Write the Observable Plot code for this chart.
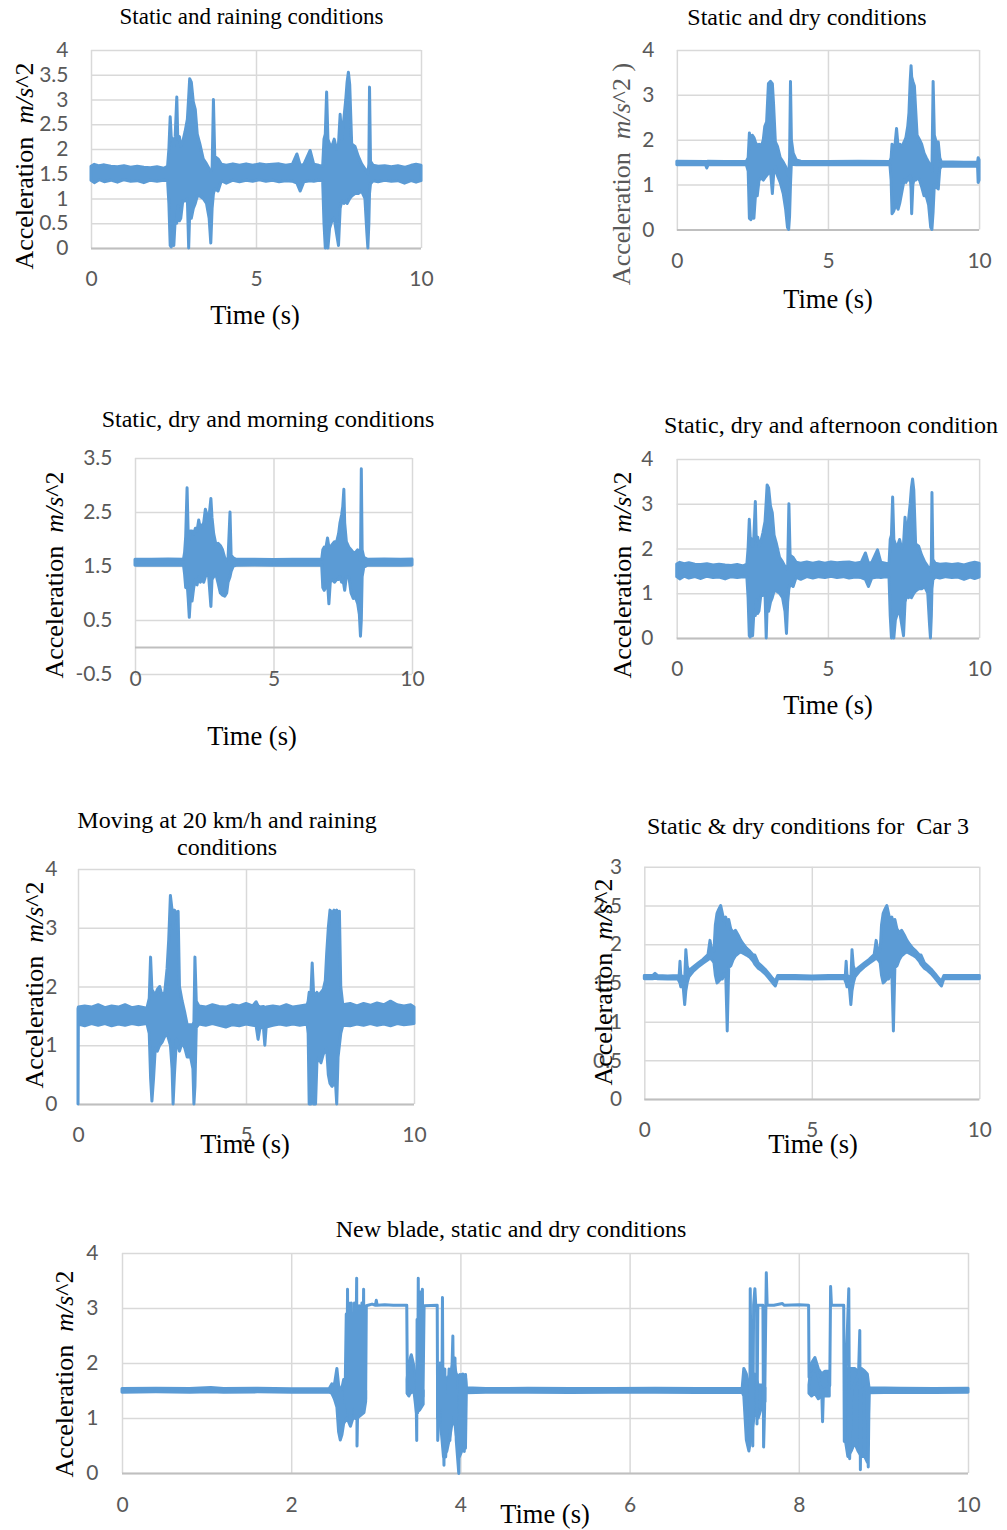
<!DOCTYPE html>
<html><head><meta charset="utf-8">
<script src="https://cdn.jsdelivr.net/npm/d3@7"></script>
<script src="https://cdn.jsdelivr.net/npm/@observablehq/plot@0.6"></script>
<style>
body{margin:0;background:#fff;width:1007px;height:1530px;position:relative;overflow:hidden}
.panel{position:absolute}
#overlay{position:absolute;left:0;top:0;pointer-events:none}
</style></head><body>
<script>
// ---------- data: [time s, low envelope, high envelope] (m/s^2) ----------
const rainBand = [
[0.00,1.37,1.65],[0.10,1.32,1.69],[0.25,1.38,1.66],[0.40,1.34,1.68],[0.60,1.37,1.65],[0.80,1.33,1.64],
[1.00,1.38,1.66],[1.20,1.35,1.63],[1.40,1.36,1.65],[1.60,1.32,1.63],[1.80,1.37,1.62],[2.00,1.35,1.64],
[2.20,1.37,1.61],[2.32,1.36,1.65],[2.36,0.90,2.00],[2.40,0.05,2.65],[2.43,0.02,2.25],[2.47,0.30,2.20],
[2.51,0.05,2.05],[2.55,0.55,2.25],[2.60,0.50,3.05],[2.63,0.85,2.20],[2.68,0.55,2.25],[2.72,0.60,2.05],
[2.78,0.95,2.15],[2.85,0.95,2.35],[2.92,1.00,2.60],[2.96,0.00,3.05],[2.99,0.70,3.42],[3.04,0.60,3.35],
[3.10,0.80,2.95],[3.16,0.90,2.80],[3.22,1.05,2.30],[3.30,1.05,2.10],[3.40,1.00,1.80],[3.50,0.90,1.70],
[3.58,0.60,1.60],[3.63,0.10,1.55],[3.67,0.80,1.60],[3.71,1.10,3.00],[3.75,1.20,1.85],[3.85,1.15,1.80],
[3.95,1.36,1.69],[4.10,1.31,1.67],[4.30,1.37,1.70],[4.50,1.34,1.67],[4.70,1.37,1.70],[4.90,1.35,1.67],
[5.10,1.38,1.70],[5.30,1.35,1.68],[5.50,1.37,1.69],[5.70,1.34,1.70],[5.90,1.36,1.67],[6.10,1.35,1.69],
[6.24,1.31,1.90],[6.34,1.15,1.67],[6.45,1.34,1.69],[6.64,1.36,1.97],[6.75,1.35,1.69],[6.90,1.37,1.67],
[7.02,1.36,1.65],[7.06,0.50,2.20],[7.10,0.00,2.30],[7.14,0.30,3.15],[7.18,0.00,2.20],[7.23,0.40,2.10],
[7.30,0.55,2.05],[7.37,0.60,2.20],[7.44,0.30,2.00],[7.50,0.05,2.10],[7.55,0.80,2.70],[7.60,0.95,2.20],
[7.66,0.90,2.60],[7.72,0.95,3.00],[7.76,0.90,3.35],[7.80,0.95,3.55],[7.84,1.00,3.30],[7.90,1.05,2.10],
[8.00,1.10,2.05],[8.10,1.10,1.85],[8.20,1.15,1.70],[8.30,1.00,1.60],[8.36,0.30,1.55],[8.39,0.00,1.50],
[8.42,0.50,1.70],[8.44,1.10,3.25],[8.47,1.30,1.75],[8.55,1.36,1.67],[8.70,1.34,1.65],[8.90,1.37,1.66],
[9.10,1.35,1.64],[9.30,1.36,1.66],[9.50,1.31,1.63],[9.70,1.36,1.67],[9.85,1.33,1.69],[10.0,1.36,1.67]
];
const dryBand = [
[0.00,1.44,1.52],[0.95,1.44,1.515],[0.99,1.37,1.515],[1.03,1.44,1.52],[1.60,1.445,1.515],[2.30,1.44,1.52],
[2.36,1.30,1.60],[2.40,0.25,2.15],[2.45,0.22,1.90],[2.50,0.28,2.10],[2.55,0.25,2.05],[2.60,0.75,1.95],
[2.66,0.75,1.85],[2.72,1.10,1.90],[2.80,1.15,1.85],[2.86,1.10,2.00],[2.91,1.15,2.30],[2.97,1.20,2.40],
[3.03,1.25,3.25],[3.10,1.30,3.30],[3.16,0.80,3.25],[3.20,1.20,2.80],[3.26,1.40,1.95],[3.33,1.20,1.85],
[3.42,1.05,1.60],[3.52,0.80,1.50],[3.60,0.45,1.40],[3.66,0.05,1.25],[3.70,0.00,1.20],[3.73,0.30,1.60],
[3.76,1.00,3.30],[3.79,1.50,2.00],[3.85,1.45,1.70],[3.95,1.44,1.55],[4.10,1.44,1.52],[5.00,1.445,1.515],
[6.00,1.44,1.52],[7.05,1.44,1.515],[7.09,1.10,1.60],[7.12,0.35,1.90],[7.17,0.40,1.85],[7.22,0.50,1.90],
[7.27,0.55,2.25],[7.32,0.45,1.85],[7.38,0.60,1.90],[7.45,0.85,1.85],[7.52,1.10,1.95],[7.58,1.05,2.05],
[7.64,1.15,2.30],[7.68,1.10,2.60],[7.72,1.20,3.30],[7.75,0.90,3.65],[7.77,0.35,3.40],[7.81,1.00,3.30],
[7.86,1.15,3.20],[7.90,1.10,2.70],[7.95,1.15,2.10],[8.03,1.10,2.00],[8.10,0.95,1.90],[8.18,0.75,1.70],
[8.25,0.75,1.60],[8.33,0.55,1.50],[8.40,0.05,1.40],[8.44,0.00,1.30],[8.48,0.40,3.30],[8.52,1.00,2.10],
[8.58,0.95,1.95],[8.65,0.90,1.95],[8.70,1.35,1.60],[8.75,1.41,1.51],[9.50,1.41,1.50],[9.95,1.41,1.50],
[9.97,1.05,1.60],[10.0,1.10,1.55]
];
const morningBand = [
[0.00,1.515,1.625],[0.60,1.52,1.625],[1.20,1.515,1.63],[1.75,1.52,1.625],[1.79,1.35,1.75],[1.83,1.10,2.05],
[1.88,1.20,2.95],[1.92,0.90,2.10],[1.96,0.55,2.00],[2.00,0.90,2.15],[2.06,0.85,2.15],[2.12,1.10,2.10],
[2.18,1.25,2.20],[2.24,1.15,2.15],[2.30,1.30,2.35],[2.36,1.20,2.20],[2.42,1.25,2.25],[2.48,1.20,2.30],
[2.54,1.30,2.55],[2.60,1.35,2.45],[2.66,1.30,2.35],[2.74,0.75,2.75],[2.78,1.25,2.40],[2.84,1.30,2.10],
[2.92,1.35,1.90],[3.00,1.18,1.92],[3.08,1.00,1.88],[3.16,0.96,1.80],[3.24,0.94,1.65],[3.31,1.00,1.60],
[3.36,1.20,1.65],[3.43,1.30,2.50],[3.47,1.40,1.70],[3.55,1.50,1.65],[3.65,1.515,1.625],[4.30,1.52,1.625],
[5.00,1.515,1.62],[5.70,1.52,1.625],[6.30,1.515,1.625],[6.74,1.515,1.625],[6.78,1.10,1.80],[6.83,1.05,1.85],
[6.88,1.10,1.80],[6.95,1.20,2.02],[7.00,0.80,1.85],[7.05,1.20,1.85],[7.12,1.25,1.90],[7.20,1.20,1.95],
[7.28,1.25,1.95],[7.35,1.25,2.10],[7.40,1.30,2.30],[7.46,1.20,2.45],[7.50,1.25,2.60],[7.54,1.15,2.92],
[7.57,1.05,2.30],[7.63,1.30,1.95],[7.72,1.30,1.85],[7.80,1.00,1.80],[7.88,0.90,1.75],[7.96,0.92,1.75],
[8.04,0.80,1.80],[8.10,0.60,1.70],[8.14,0.20,1.60],[8.17,0.50,3.30],[8.20,1.30,1.80],[8.26,1.48,1.66],
[8.40,1.515,1.625],[9.00,1.52,1.63],[9.60,1.515,1.625],[10.0,1.52,1.63]
];
const afternoonBand = rainBand; // same recorded trace as the raining plot
const movingBand = [
[0.00,0.00,1.62],[0.01,1.36,1.65],[0.20,1.33,1.67],[0.40,1.37,1.65],[0.60,1.34,1.69],[0.80,1.37,1.64],
[1.00,1.33,1.67],[1.20,1.36,1.65],[1.40,1.34,1.69],[1.60,1.37,1.64],[1.80,1.35,1.66],[2.05,1.37,1.63],
[2.12,1.20,1.80],[2.16,0.45,2.50],[2.20,0.05,1.95],[2.25,0.45,1.90],[2.30,0.95,1.85],[2.36,0.90,1.95],
[2.43,1.00,2.00],[2.50,1.05,1.85],[2.58,1.15,1.90],[2.65,1.20,2.30],[2.70,1.10,2.80],[2.75,1.00,3.55],
[2.80,0.60,3.30],[2.83,0.00,3.00],[2.87,0.50,3.30],[2.93,1.10,3.25],[2.98,1.00,3.28],[3.02,0.90,2.00],
[3.10,1.05,1.75],[3.18,0.95,1.55],[3.25,0.80,1.35],[3.35,0.80,1.35],[3.42,0.60,1.35],[3.45,0.00,1.40],
[3.48,0.30,2.50],[3.52,1.30,1.75],[3.60,1.36,1.67],[3.80,1.34,1.65],[4.00,1.37,1.69],[4.20,1.34,1.66],
[4.40,1.31,1.65],[4.60,1.35,1.69],[4.80,1.33,1.67],[5.00,1.36,1.71],[5.20,1.34,1.67],[5.30,1.33,1.74],
[5.36,1.10,1.67],[5.42,1.31,1.65],[5.52,1.29,1.66],[5.56,1.00,1.64],[5.60,1.31,1.65],[5.80,1.34,1.67],
[6.00,1.36,1.65],[6.20,1.34,1.69],[6.40,1.36,1.65],[6.60,1.34,1.67],[6.82,1.36,1.69],[6.85,1.20,1.75],
[6.88,0.00,1.90],[6.93,0.00,1.85],[6.97,0.10,2.40],[7.01,0.00,1.90],[7.07,0.00,1.85],[7.11,0.70,1.90],
[7.17,0.80,1.85],[7.23,0.70,1.90],[7.30,0.85,1.95],[7.36,0.90,2.10],[7.40,0.95,2.55],[7.45,0.50,3.00],
[7.50,0.35,3.30],[7.56,0.30,3.25],[7.62,0.35,3.30],[7.67,0.30,3.28],[7.70,0.00,3.30],[7.74,0.80,3.25],
[7.78,1.00,3.28],[7.82,1.20,2.00],[7.88,1.34,1.69],[8.10,1.33,1.71],[8.30,1.36,1.67],[8.50,1.34,1.71],
[8.70,1.37,1.68],[8.90,1.34,1.72],[9.10,1.36,1.69],[9.30,1.33,1.75],[9.50,1.37,1.69],[9.70,1.35,1.67],
[9.90,1.36,1.69],[10.0,1.37,1.65]
];
const car3Band = [
[0.00,1.555,1.595],[0.25,1.555,1.595],[0.32,1.56,1.625],[0.40,1.555,1.595],[0.70,1.55,1.59],[1.00,1.555,1.595],
[1.04,1.52,1.60],[1.065,1.50,1.78],[1.09,1.45,1.60],[1.15,1.50,1.58],[1.205,1.22,1.55],[1.24,1.40,1.93],
[1.28,1.50,1.72],[1.33,1.58,1.66],[1.45,1.645,1.705],[1.60,1.705,1.755],[1.75,1.755,1.805],[1.90,1.80,1.865],
[1.96,1.82,2.05],[2.02,1.80,1.90],[2.08,1.76,1.92],[2.12,1.60,2.25],[2.17,1.50,2.40],[2.22,1.52,2.45],
[2.28,1.55,2.50],[2.33,1.55,2.40],[2.38,1.62,2.30],[2.43,1.60,2.35],[2.475,0.88,2.25],[2.52,1.70,2.32],
[2.58,1.72,2.20],[2.65,1.80,2.15],[2.72,1.85,2.18],[2.80,1.88,2.12],[2.88,1.90,2.05],[2.96,1.88,2.00],
[3.05,1.86,1.95],[3.15,1.83,1.91],[3.25,1.78,1.86],[3.30,1.74,1.86],[3.40,1.69,1.76],[3.50,1.66,1.72],
[3.60,1.62,1.68],[3.72,1.56,1.62],[3.83,1.50,1.56],[3.91,1.46,1.52],[3.98,1.555,1.595],[4.50,1.555,1.595],
[5.00,1.55,1.59],[5.50,1.555,1.595],[5.98,1.555,1.595],
[6.00,1.52,1.60],[6.025,1.50,1.78],[6.05,1.45,1.60],[6.11,1.50,1.58],[6.165,1.22,1.55],[6.20,1.40,1.93],
[6.24,1.50,1.72],[6.29,1.58,1.66],[6.41,1.645,1.705],[6.56,1.705,1.755],[6.71,1.755,1.805],[6.86,1.80,1.865],
[6.92,1.82,2.05],[6.98,1.80,1.90],[7.04,1.76,1.92],[7.08,1.60,2.25],[7.13,1.50,2.40],[7.18,1.52,2.45],
[7.24,1.55,2.50],[7.29,1.55,2.40],[7.34,1.62,2.30],[7.39,1.60,2.35],[7.435,0.88,2.25],[7.48,1.70,2.32],
[7.54,1.72,2.20],[7.61,1.80,2.15],[7.68,1.85,2.18],[7.76,1.88,2.12],[7.84,1.90,2.05],[7.92,1.88,2.00],
[8.01,1.86,1.95],[8.11,1.83,1.91],[8.21,1.78,1.86],[8.26,1.74,1.86],[8.36,1.69,1.76],[8.46,1.66,1.72],
[8.56,1.62,1.68],[8.68,1.56,1.62],[8.79,1.50,1.56],[8.87,1.46,1.52],[8.94,1.555,1.595],[9.40,1.555,1.595],
[10.0,1.555,1.595]
];
const bladeBand = [
[0.00,1.47,1.535],[0.40,1.475,1.54],[0.80,1.47,1.535],[1.05,1.475,1.555],[1.20,1.47,1.535],[1.60,1.475,1.54],
[2.00,1.47,1.53],[2.45,1.47,1.535],[2.48,1.45,1.62],[2.51,1.35,1.60],[2.54,1.20,1.90],[2.56,0.75,1.60],
[2.58,0.60,1.50],[2.60,0.70,1.55],[2.62,0.90,1.70],[2.66,1.00,1.65],[2.70,0.85,1.60],[2.74,1.05,1.55],
[2.78,1.00,1.65],[2.82,1.05,1.60],[2.86,1.10,1.55],[2.88,1.30,1.50],[2.89,NaN,NaN],
[3.37,1.45,1.70],[3.39,1.40,2.00],[3.42,1.50,2.15],[3.45,1.50,1.95],[3.48,1.10,1.60],[3.52,1.15,1.55],
[3.56,1.25,1.50],[3.57,NaN,NaN],
[3.73,1.00,1.60],[3.76,1.00,2.00],[3.80,0.30,1.80],[3.84,0.40,1.70],[3.88,0.70,1.80],[3.92,1.10,2.05],
[3.95,0.70,1.80],[3.99,0.30,1.75],[4.03,0.45,1.80],[4.06,0.45,1.75],[4.07,1.46,1.55],[4.30,1.47,1.535],
[4.80,1.47,1.54],[5.30,1.465,1.535],[5.80,1.47,1.535],[6.30,1.47,1.54],[6.80,1.465,1.535],[7.33,1.47,1.535],
[7.35,1.40,1.90],[7.38,0.60,1.80],[7.41,0.40,1.60],[7.44,0.70,1.70],[7.48,1.10,1.80],[7.52,1.00,1.60],
[7.56,1.20,1.60],[7.60,1.30,1.55],[7.63,NaN,NaN],
[8.12,1.45,1.60],[8.15,1.40,2.00],[8.19,1.45,2.10],[8.23,1.35,1.90],[8.27,1.40,1.80],[8.31,1.40,1.85],
[8.36,1.40,1.85],[8.38,NaN,NaN],
[8.55,0.60,1.70],[8.58,0.30,1.90],[8.62,0.40,1.90],[8.66,0.55,1.90],[8.70,0.40,1.85],[8.74,0.30,1.90],
[8.78,0.30,1.85],[8.81,0.20,1.80],[8.83,1.46,1.55],[9.20,1.47,1.54],[9.60,1.465,1.535],[10.0,1.47,1.54]
];
// new-blade spikes and 3.05 plateaus: [time s, value]
const bladeTrace1 = [
[2.630,1.30],[2.645,2.90],[2.650,1.20],[2.660,3.35],[2.667,1.10],[2.675,3.10],[2.690,3.08],[2.695,0.90],
[2.705,3.10],[2.712,1.20],[2.735,1.30],[2.742,3.10],[2.750,1.00],[2.768,3.55],[2.772,0.50],[2.780,1.20],
[2.800,3.05],[2.808,1.10],[2.830,3.10],[2.836,1.20],[2.850,3.35],[2.856,1.30],[2.874,1.35],[2.882,3.05],
[2.950,3.08],[2.990,3.06],[3.000,3.15],[3.010,3.06],[3.100,3.07],[3.200,3.06],[3.360,3.06],[3.368,1.45],
[3.470,1.50],[3.478,0.60],[3.482,2.80],[3.488,1.10],[3.496,3.55],[3.502,1.20],[3.520,3.30],[3.526,1.30],
[3.545,3.35],[3.552,1.40],[3.565,3.05],[3.720,3.06],[3.726,0.60],[3.740,1.00],[3.760,2.00],[3.775,1.20],
[3.782,3.20],[3.790,0.90],[3.800,0.15],[3.810,1.90],[3.820,0.30],[3.860,1.90],[3.870,0.60],[3.905,2.50],
[3.915,0.90],[3.930,2.10],[3.945,0.60],[3.975,0.00],[3.990,1.80],[4.000,0.40],[4.020,1.80],[4.040,0.40],
[4.055,1.80],[4.065,1.50]
];
const bladeTrace2 = [
[7.415,0.60],[7.420,3.36],[7.435,0.90],[7.450,0.50],[7.460,3.06],[7.475,3.36],[7.485,3.06],[7.495,3.06],
[7.500,0.90],[7.510,3.06],[7.570,3.06],[7.578,0.48],[7.590,1.20],[7.610,3.65],[7.620,3.06],[7.700,3.06],
[7.800,3.09],[7.820,3.06],[8.000,3.07],[8.110,3.06],[8.115,1.75],[8.200,1.90],[8.265,1.50],[8.275,0.94],
[8.285,1.50],[8.360,1.60],[8.370,3.40],[8.380,3.06],[8.525,3.06],[8.532,0.58],[8.550,1.80],[8.585,3.36],
[8.595,0.27],[8.620,1.50],[8.700,1.80],[8.715,2.60],[8.722,0.07],[8.730,1.50],[8.800,1.60],[8.815,0.12],
[8.825,1.50]
];
// ---------- ticks ----------
const ticks4half = [0,0.5,1,1.5,2,2.5,3,3.5,4];
const ticks4 = [0,1,2,3,4];
const ticksMorning = [-0.5,0.5,1.5,2.5,3.5];
const ticks3half = [0,0.5,1,1.5,2,2.5,3];
const timeTicks = [0,5,10];
const timeTicksWide = [0,2,4,6,8,10];

// ---------- layout ----------
const BLUE = "#5B9BD5";
const TICKFONT = "Lato, 'Open Sans', sans-serif";
const panels = [
 {band:rainBand,      x0:91,  x1:421, yT:50,   yB:248,  dom:[0,4],      yt:ticks4half,   xt:timeTicks,     padY:23, padX:23},
 {band:dryBand,       x0:677, x1:980, yT:50,   yB:230,  dom:[0,4],      yt:ticks4,       xt:timeTicks,     padY:23, padX:23},
 {band:morningBand,   x0:135, x1:412, yT:458,  yB:674,  dom:[-0.5,3.5], yt:ticksMorning, xt:timeTicks,     padY:23, padX:-3},
 {band:afternoonBand, x0:677, x1:981, yT:459,  yB:639,  dom:[0,4],      yt:ticks4,       xt:timeTicks,     padY:24, padX:23},
 {band:movingBand,    x0:78,  x1:414, yT:869,  yB:1104, dom:[0,4],      yt:ticks4,       xt:timeTicks,     padY:21, padX:23},
 {band:car3Band,      x0:645, x1:984, yT:867,  yB:1102, dom:[0,3],      yt:ticks3half,   xt:timeTicks,     padY:23, padX:23},
 {band:bladeBand, traces:[bladeTrace1,bladeTrace2], x0:122, x1:968, yT:1253, yB:1473, dom:[0,4], yt:ticks4, xt:timeTicksWide, padY:24, padX:24}
];

const mL=60, mR=28, mT=15, mB=45;
for (const p of panels) {
  const marks = [
    Plot.gridX(p.xt, {stroke:"#d9d9d9", strokeOpacity:1, strokeWidth:1.5}),
    Plot.gridY(p.yt, {stroke:"#d9d9d9", strokeOpacity:1, strokeWidth:1.5}),
    Plot.ruleY([0], {stroke:"#bfbfbf", strokeWidth:2}),
    Plot.areaY(p.band, {x:d=>d[0], y1:d=>d[1], y2:d=>d[2], fill:BLUE, stroke:BLUE, strokeWidth:3, strokeLinejoin:"round"})
  ];
  for (const tr of (p.traces||[])) marks.push(Plot.line(tr, {x:d=>d[0], y:d=>d[1], stroke:BLUE, strokeWidth:3}));
  marks.push(Plot.axisY(p.yt, {tickSize:0, tickPadding:p.padY, tickFormat:d=>String(d), label:null, fill:"#595959", fontSize:21, fontFamily:TICKFONT}));
  marks.push(Plot.axisX(p.xt, {tickSize:0, tickPadding:p.padX, tickFormat:d=>String(d), label:null, fill:"#595959", fontSize:21, fontFamily:TICKFONT}));
  const chart = Plot.plot({
    width: p.x1-p.x0+mL+mR, height: p.yB-p.yT+mT+mB,
    marginLeft:mL, marginRight:mR, marginTop:mT, marginBottom:mB,
    x:{domain:[0,10]}, y:{domain:p.dom},
    style:{fontFamily:TICKFONT, fontSize:"21px", color:"#595959", background:"transparent", overflow:"visible"},
    marks
  });
  const div = document.createElement("div");
  div.className = "panel";
  div.style.left = (p.x0-mL)+"px";
  div.style.top = (p.yT-mT)+"px";
  div.appendChild(chart);
  document.body.appendChild(div);
}

// ---------- text overlay ----------
const titles = [
 ["Static and raining conditions", 251.5, 24, 23],
 ["Static and dry conditions", 807, 25, 24],
 ["Static, dry and morning conditions", 268, 427, 24],
 ["Static, dry and afternoon condition", 831, 433, 24],
 ["Moving at 20 km/h and raining", 227, 828, 24],
 ["conditions", 227, 855, 24],
 ["Static & dry conditions for\u00a0\u00a0Car 3", 808, 834, 24],
 ["New blade, static and dry conditions", 511, 1237, 24]
];
const timeLabels = [[255,324],[828,308],[252,745],[828,714],[245,1153],[813,1153],[545,1523]];
const yLabels = [
 [33,166,"","#000"],[630,174," )","#595959"],[63,575,"","#000"],[631,575,"","#000"],
 [43,985,"","#000"],[612,982,"","#000"],[73,1374,"","#000"]
];
const svg = d3.select("body").append("svg").attr("id","overlay").attr("width",1007).attr("height",1530)
  .style("font-family","'Liberation Serif','Times New Roman',serif");
for (const [t,x,y,s] of titles)
  svg.append("text").attr("x",x).attr("y",y).attr("text-anchor","middle").attr("font-size",s).attr("fill","#000").text(t);
for (const [x,y] of timeLabels)
  svg.append("text").attr("x",x).attr("y",y).attr("text-anchor","middle").attr("font-size",26.5).attr("fill","#000").text("Time (s)");
for (const [x,y,suf,col] of yLabels) {
  const t = svg.append("text").attr("transform",`translate(${x},${y}) rotate(-90)`).attr("text-anchor","middle")
    .attr("font-size",26).attr("fill",col);
  t.append("tspan").text("Acceleration\u00a0\u00a0");
  t.append("tspan").attr("font-style","italic").text("m/s");
  t.append("tspan").text("^2"+suf);
}
</script>
</body></html>
